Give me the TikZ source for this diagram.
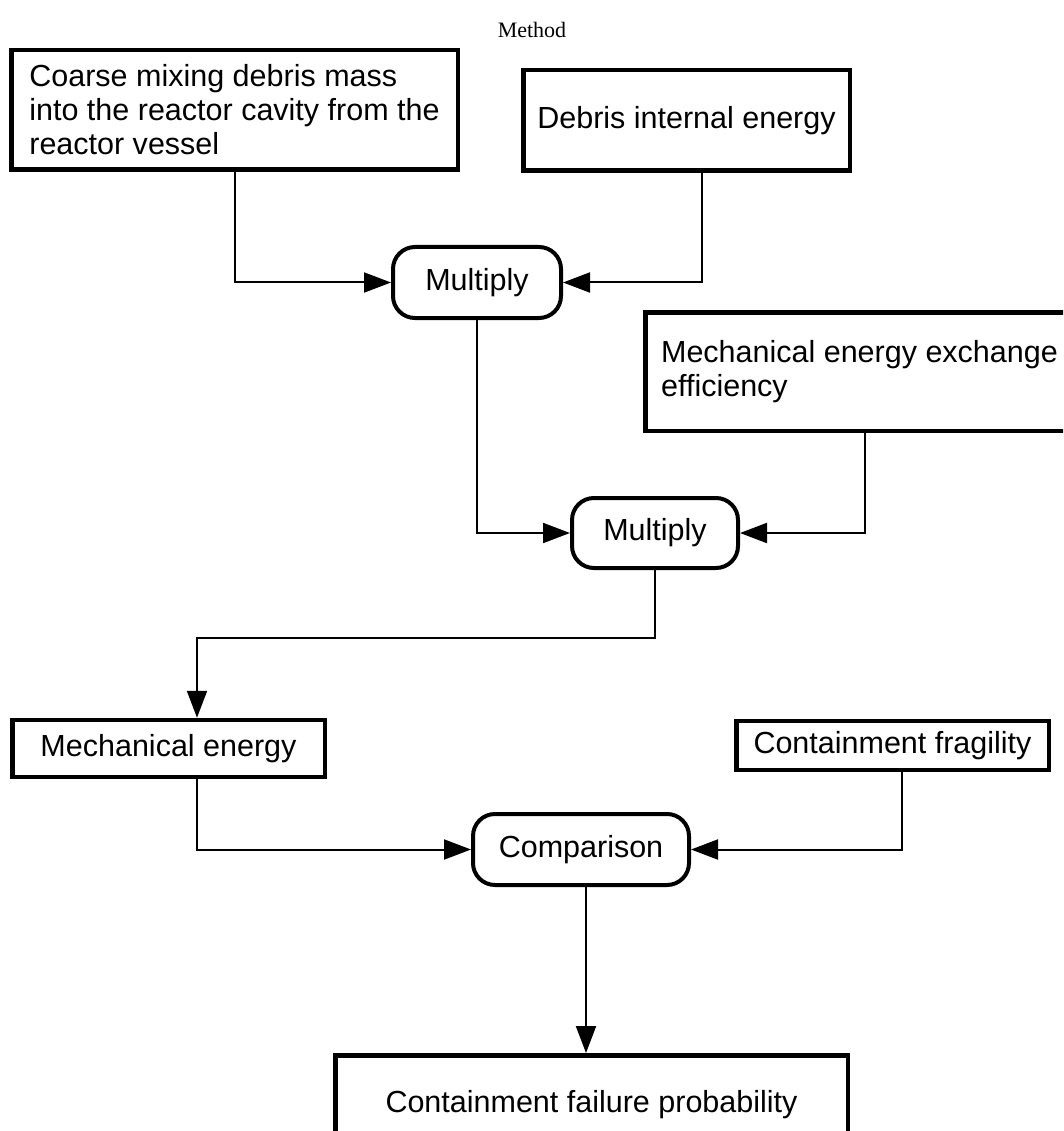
\documentclass[tikz,border=0pt]{standalone}
\usepackage{fontspec}
\setmainfont{Liberation Sans}
\newfontfamily\titlefont{Liberation Serif}
\usetikzlibrary{arrows.meta}
\begin{document}
\begin{tikzpicture}[x=1pt,y=-1pt,
  txt/.style={font=\fontsize{30.5}{34}\selectfont},
  box/.style={draw, line width=4.5pt, inner sep=0pt, txt},
  op/.style={draw, line width=4pt, rounded corners=22pt, inner sep=0pt, txt, align=center},
  arr/.style={line width=2pt, -{Triangle[length=27pt,width=20pt]}}]
\path[use as bounding box] (0,0) rectangle (1063,1131);
\clip (0,0) rectangle (1063,1131);
\node[font=\titlefont\fontsize{22}{26}\selectfont] (title) at (532,30) {Method};
\node[box, minimum width=446.5pt, minimum height=119.5pt, align=left] (b1) at (234.5,110) {Coarse mixing debris mass\\into the reactor cavity from the\\reactor vessel};
\node[box, minimum width=326.5pt, minimum height=100.5pt] (b2) at (686.5,120.5) {Debris internal energy};
\node[op, minimum width=168pt, minimum height=71pt] (m1) at (477,282.5) {Multiply};
\node[box, minimum width=428.5pt, minimum height=118.5pt, align=left] (b3) at (859.5,371.5) {Mechanical energy exchange\\efficiency};
\node[op, minimum width=166pt, minimum height=70pt] (m2) at (655,533) {Multiply};
\node[box, minimum width=312.5pt, minimum height=57pt] (me) at (168.5,748.5) {Mechanical energy};
\node[box, minimum width=312.5pt, minimum height=49pt] (cf) at (892.5,745.5) {Containment fragility};
\node[op, minimum width=216pt, minimum height=71pt] (cmp) at (581,849.5) {Comparison};
\node[box, minimum width=512.5pt, minimum height=99.5pt] (fp) at (591.5,1105) {Containment failure probability};
\coordinate (c2) at (197,638);
\coordinate (cb) at ([xshift=5pt]cmp.south);
\draw[arr] (b1.south) |- (m1.west);
\draw[arr] ([xshift=15.5pt]b2.south) |- (m1.east);
\draw[arr] (m1.south) |- (m2.west);
\draw[arr] ([xshift=5.5pt]b3.south) |- (m2.east);
\draw[arr] (m2.south) |- (c2) -- (c2 |- me.north);
\draw[arr] ([xshift=28.5pt]me.south) |- (cmp.west);
\draw[arr] ([xshift=9.5pt]cf.south) |- (cmp.east);
\draw[arr] (cb) -- (cb |- fp.north);
\end{tikzpicture}
\end{document}
